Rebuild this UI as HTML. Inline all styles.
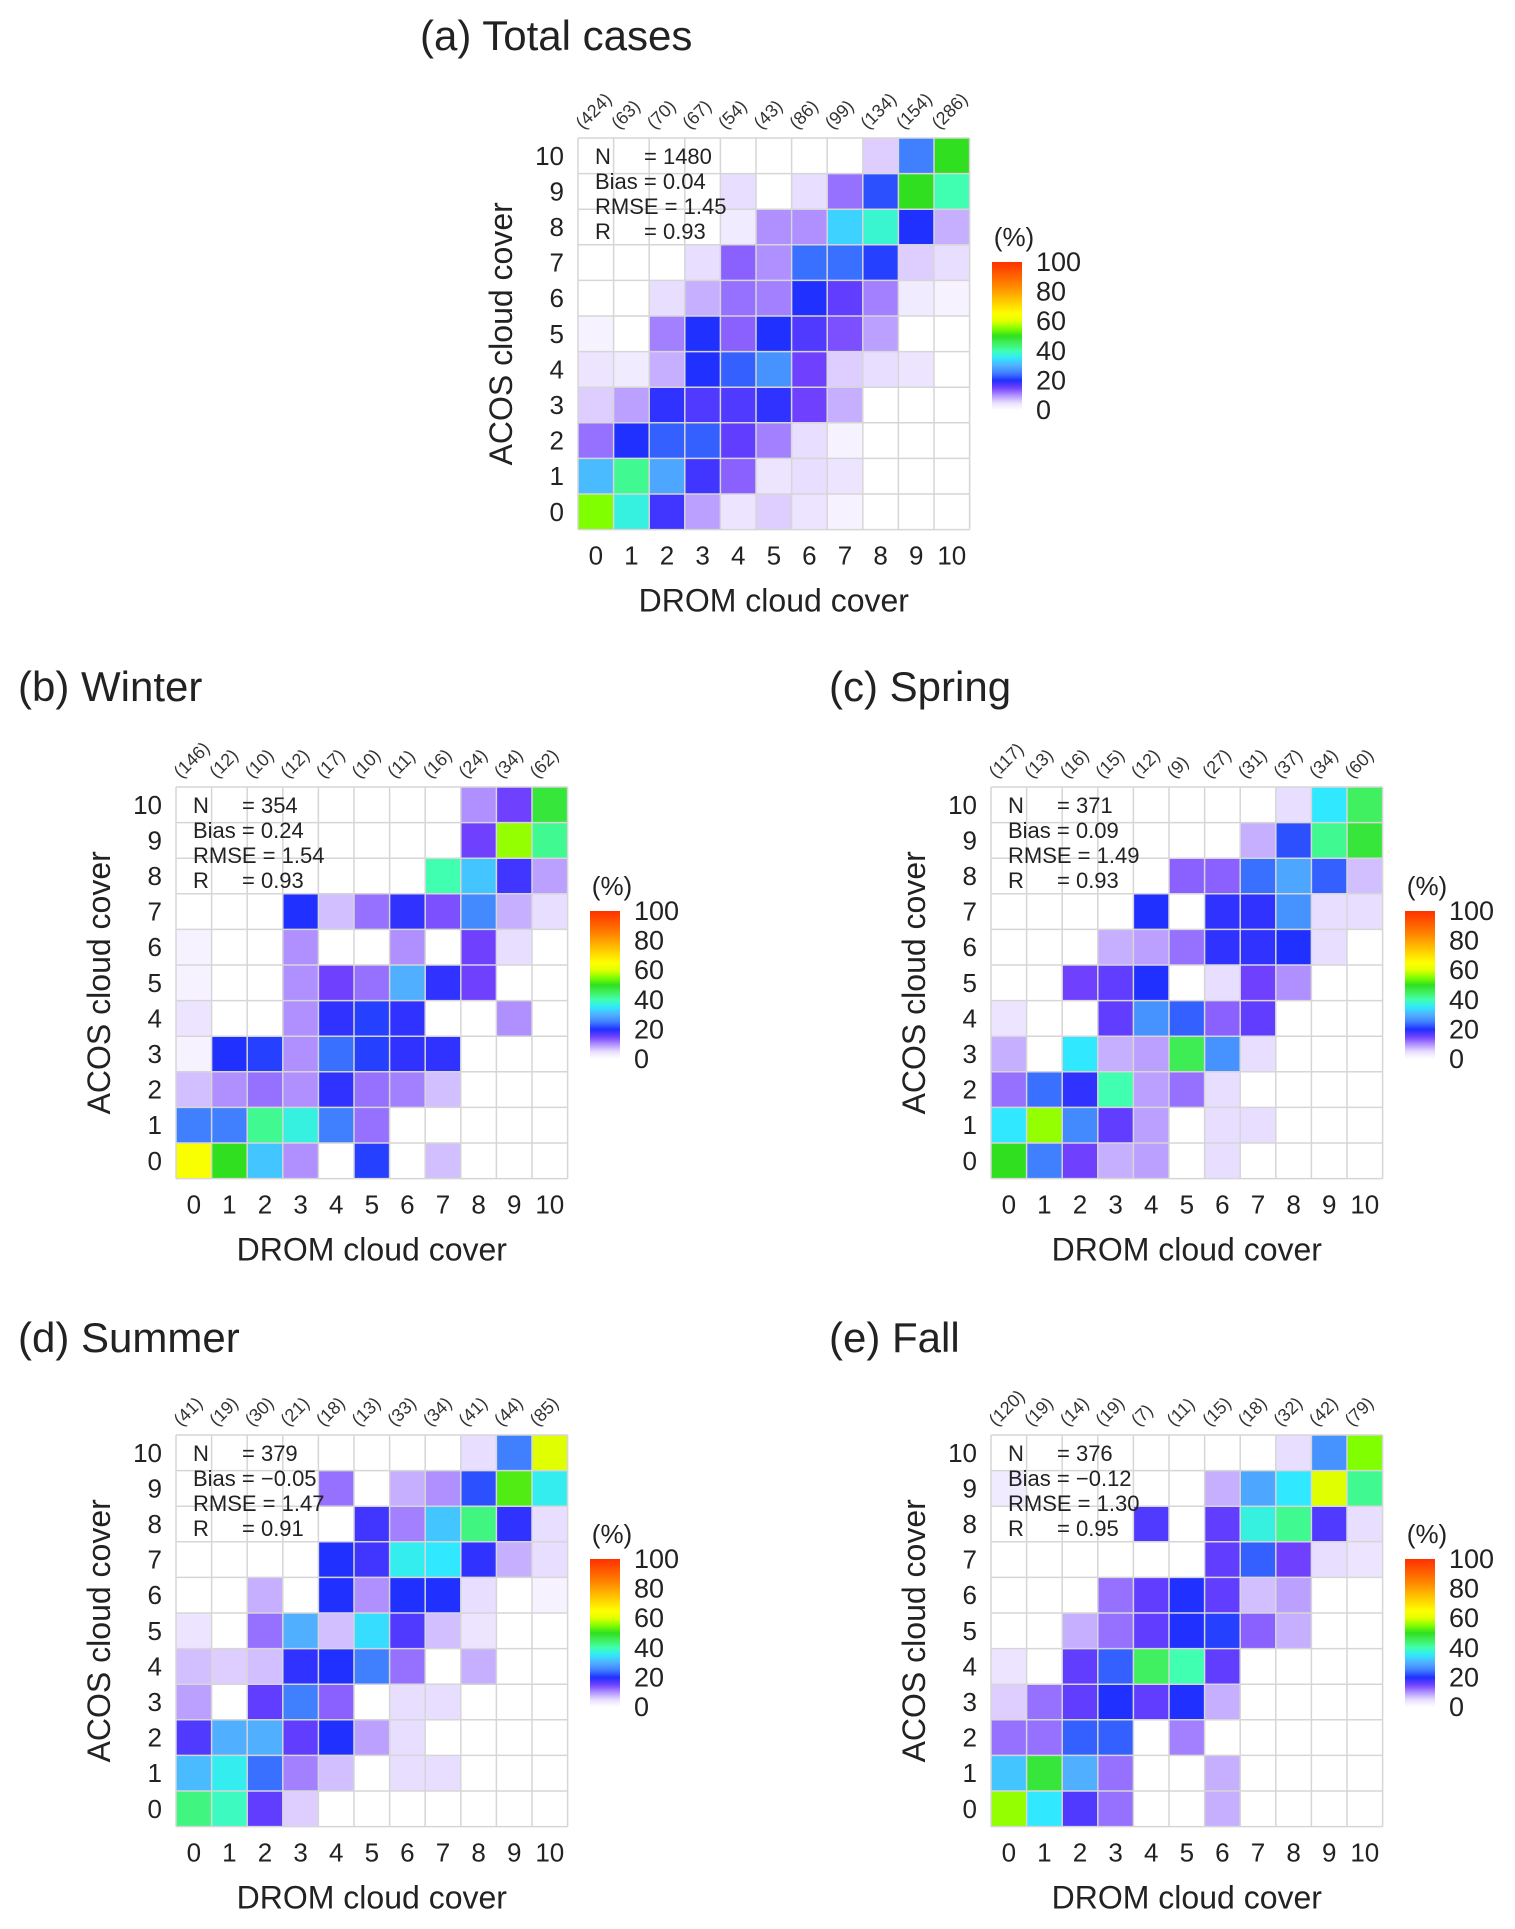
<!DOCTYPE html>
<html><head><meta charset="utf-8"><style>
html,body{margin:0;padding:0;background:#fff}
svg{display:block;font-family:"Liberation Sans",Arial,sans-serif}
</style></head><body>
<svg id="fig" width="1515" height="1929" viewBox="0 0 1515 1929" xmlns="http://www.w3.org/2000/svg"></svg>
<script>
const categories = [0,1,2,3,4,5,6,7,8,9,10];
const colorbarTicks = [0,20,40,60,80,100];
// rows listed from ACOS 10 (top) down to ACOS 0; columns DROM 0..10 ; values in %
const totalValues = [
[0,0,0,0,0,0,0,0,6,25,50],
[0,0,0,0,5,0,5,12,22,50,40],
[0,0,0,0,3,10,10,33,38,20,8],
[0,0,0,5,13,10,24,24,21,6,5],
[0,0,5,8,12,11,20,16,11,3,2],
[2,0,11,20,13,20,17,14,9,0,0],
[4,3,8,20,23,27,15,6,5,4,0],
[6,9,19,17,17,19,15,8,0,0,0],
[12,20,23,23,16,11,5,2,0,0,0],
[31,42,29,18,13,4,5,4,0,0,0],
[55,37,18,9,4,6,4,2,0,0,0]];
const winterValues = [
[0,0,0,0,0,0,0,0,10,15,48],
[0,0,0,0,0,0,0,0,15,56,42],
[0,0,0,0,0,0,0,40,32,18,9],
[0,0,0,20,7,12,19,14,26,8,5],
[2,0,0,10,0,0,10,0,15,5,0],
[2,0,0,10,15,12,30,19,15,0,0],
[4,0,0,10,19,21,19,0,0,10,0],
[2,20,21,10,24,21,19,19,0,0,0],
[7,10,12,10,19,12,11,7,0,0,0],
[25,25,42,37,25,12,0,0,0,0,0],
[64,50,32,10,0,21,0,7,0,0,0]];
const springValues = [
[0,0,0,0,0,0,0,0,5,35,45],
[0,0,0,0,0,0,0,8,22,42,48],
[0,0,0,0,0,13,13,24,29,23,7],
[0,0,0,0,20,0,19,19,27,5,5],
[0,0,0,8,9,12,19,19,20,5,0],
[0,0,15,16,20,0,5,15,10,0,0],
[4,0,0,16,27,23,13,16,0,0,0],
[8,0,35,8,9,46,27,5,0,0,0],
[12,24,19,40,9,12,5,0,0,0,0],
[35,56,26,16,9,0,5,5,0,0,0],
[50,25,15,8,9,0,5,0,0,0,0]];
const summerValues = [
[0,0,0,0,0,0,0,0,5,25,60],
[0,0,0,0,12,0,8,10,22,52,36],
[0,0,0,0,0,18,11,32,43,19,5],
[0,0,0,0,20,18,36,35,19,8,5],
[0,0,8,0,20,10,20,20,5,0,2],
[4,0,12,30,7,34,17,7,4,0,0],
[7,6,7,19,20,25,12,0,8,0,0],
[9,0,16,25,13,0,5,5,0,0,0],
[17,30,30,16,20,9,5,0,0,0,0],
[31,36,24,11,7,0,5,5,0,0,0],
[43,39,16,6,0,0,0,0,0,0,0]];
const fallValues = [
[0,0,0,0,0,0,0,0,5,27,55],
[3,0,0,0,0,0,8,29,35,60,42],
[0,0,0,0,17,0,16,37,42,17,5],
[0,0,0,0,0,0,16,23,15,5,4],
[0,0,0,12,16,20,16,7,9,0,0],
[0,0,8,12,16,20,21,13,8,0,0],
[4,0,16,23,45,40,16,0,0,0,0],
[6,12,16,20,16,20,8,0,0,0,0],
[12,12,23,23,0,11,0,0,0,0,0],
[32,48,30,12,0,0,8,0,0,0,0],
[56,35,17,12,0,0,8,0,0,0,0]];
const totalCounts = [424,63,70,67,54,43,86,99,134,154,286];
const winterCounts = [146,12,10,12,17,10,11,16,24,34,62];
const springCounts = [117,13,16,15,12,9,27,31,37,34,60];
const summerCounts = [41,19,30,21,18,13,33,34,41,44,85];
const fallCounts = [120,19,14,19,7,11,15,18,32,42,79];
const totalStats = ["1480","0.04","1.45","0.93"];
const winterStats = ["354","0.24","1.54","0.93"];
const springStats = ["371","0.09","1.49","0.93"];
const summerStats = ["379","\u22120.05","1.47","0.91"];
const fallStats = ["376","\u22120.12","1.30","0.95"];

const stops=[[0,[255,255,255]],[5,[232,222,255]],[10,[176,144,255]],[15,[112,64,255]],[20,[32,48,255]],[25,[64,128,255]],[30,[80,176,255]],[35,[48,232,255]],[40,[64,255,176]],[45,[64,240,96]],[50,[48,224,32]],[55,[128,255,0]],[60,[224,255,0]],[65,[255,255,0]],[75,[255,192,0]],[85,[255,128,0]],[100,[255,48,0]]];
function cmap(v){
  v=Math.max(0,Math.min(100,v));
  for(let i=1;i<stops.length;i++){
    if(v<=stops[i][0]){const a=stops[i-1],b=stops[i],t=(v-a[0])/(b[0]-a[0]);
      return 'rgb('+a[1].map((c,k)=>Math.round(c+(b[1][k]-c)*t)).join(',')+')';}
  }
  return 'rgb(255,48,0)';
}
const NS='http://www.w3.org/2000/svg';
const svg=document.getElementById('fig');
function mk(tag,attrs,parent,text){const e=document.createElementNS(NS,tag);for(const k in attrs)e.setAttribute(k,attrs[k]);if(text!==undefined)e.textContent=text;(parent||svg).appendChild(e);return e;}

const C=35.6,S=C*11;
const defs=mk('defs',{});
const lg=mk('linearGradient',{id:'cbg',x1:0,y1:1,x2:0,y2:0},defs);
for(let v=0;v<=100;v+=2){mk('stop',{offset:v+'%','stop-color':cmap(v)},lg);}

function xScale(gx,i){return gx+i*C;}
function yScale(gy,j){return gy+(10-j)*C;}

function panel(key,title,tx,ty,gx,gy,values,counts,stats){
  const g=mk('g',{});
  
  
  const t=mk('text',{x:tx,y:ty,'font-size':42,fill:'#222'},g,title);
  
  
  for(let r=0;r<11;r++){for(let c=0;c<11;c++){
    const j=categories[10-r],i=categories[c];
    const rc=mk('rect',{x:xScale(gx,i),y:yScale(gy,j),width:C,height:C,fill:cmap(values[r][c])},g);
    
    
  }}
  for(let k=0;k<=11;k++){
    mk('line',{x1:gx+k*C,y1:gy,x2:gx+k*C,y2:gy+S,stroke:'#d6d6d6','stroke-width':1.5},g);
    mk('line',{x1:gx,y1:gy+k*C,x2:gx+S,y2:gy+k*C,stroke:'#d6d6d6','stroke-width':1.5},g);
  }
  categories.forEach(v=>{
    const yl=mk('text',{x:gx-14,y:yScale(gy,v)+C/2+9,'font-size':26,'text-anchor':'end',fill:'#222'},g,String(v));
    
    
    const xl=mk('text',{x:xScale(gx,v)+C/2,y:gy+S+35,'font-size':26,'text-anchor':'middle',fill:'#222'},g,String(v));
    
    
  });
  counts.forEach((n,i)=>{
    const x=xScale(gx,i)+5,y=gy-8;
    const ct=mk('text',{x:x,y:y,'font-size':18,fill:'#333',transform:'rotate(-45 '+x+' '+y+')'},g,'('+n+')');
    
    
  });
  const xt=mk('text',{x:gx+S/2,y:gy+S+82,'font-size':32,'text-anchor':'middle',fill:'#222'},g,'DROM cloud cover');
  
  
  const yx=gx-66,yy=gy+S/2;
  const yt=mk('text',{x:yx,y:yy,'font-size':32,'text-anchor':'middle',fill:'#222',transform:'rotate(-90 '+yx+' '+yy+')'},g,'ACOS cloud cover');
  
  
  const st=mk('g',{'font-size':22,fill:'#222'},g);
  
  
  mk('text',{x:gx+17,y:gy+26},st,'N');
  mk('text',{x:gx+66,y:gy+26},st,'= '+stats[0]);
  mk('text',{x:gx+17,y:gy+51},st,'Bias = '+stats[1]);
  mk('text',{x:gx+17,y:gy+76},st,'RMSE = '+stats[2]);
  mk('text',{x:gx+17,y:gy+101},st,'R');
  mk('text',{x:gx+66,y:gy+101},st,'= '+stats[3]);
  const cx=gx+414,cy=gy+124,ch=148;
  const cb=mk('rect',{x:cx,y:cy,width:30,height:ch,fill:'url(#cbg)'},g);
  
  
  const pu=mk('text',{x:cx+22,y:cy-16,'font-size':26,'text-anchor':'middle',fill:'#222'},g,'(%)');
  
  
  colorbarTicks.forEach(v=>{
    const tl=mk('text',{x:cx+44,y:cy+ch-(v/100)*ch+9,'font-size':27,fill:'#222'},g,String(v));
    
    
  });
}
panel('total','(a) Total cases',420,50,578,138,totalValues,totalCounts,totalStats);
panel('winter','(b) Winter',18,701,176,787,winterValues,winterCounts,winterStats);
panel('spring','(c) Spring',829,701,991,787,springValues,springCounts,springStats);
panel('summer','(d) Summer',18,1352,176,1435,summerValues,summerCounts,summerStats);
panel('fall','(e) Fall',829,1352,991,1435,fallValues,fallCounts,fallStats);
</script>
</body></html>
